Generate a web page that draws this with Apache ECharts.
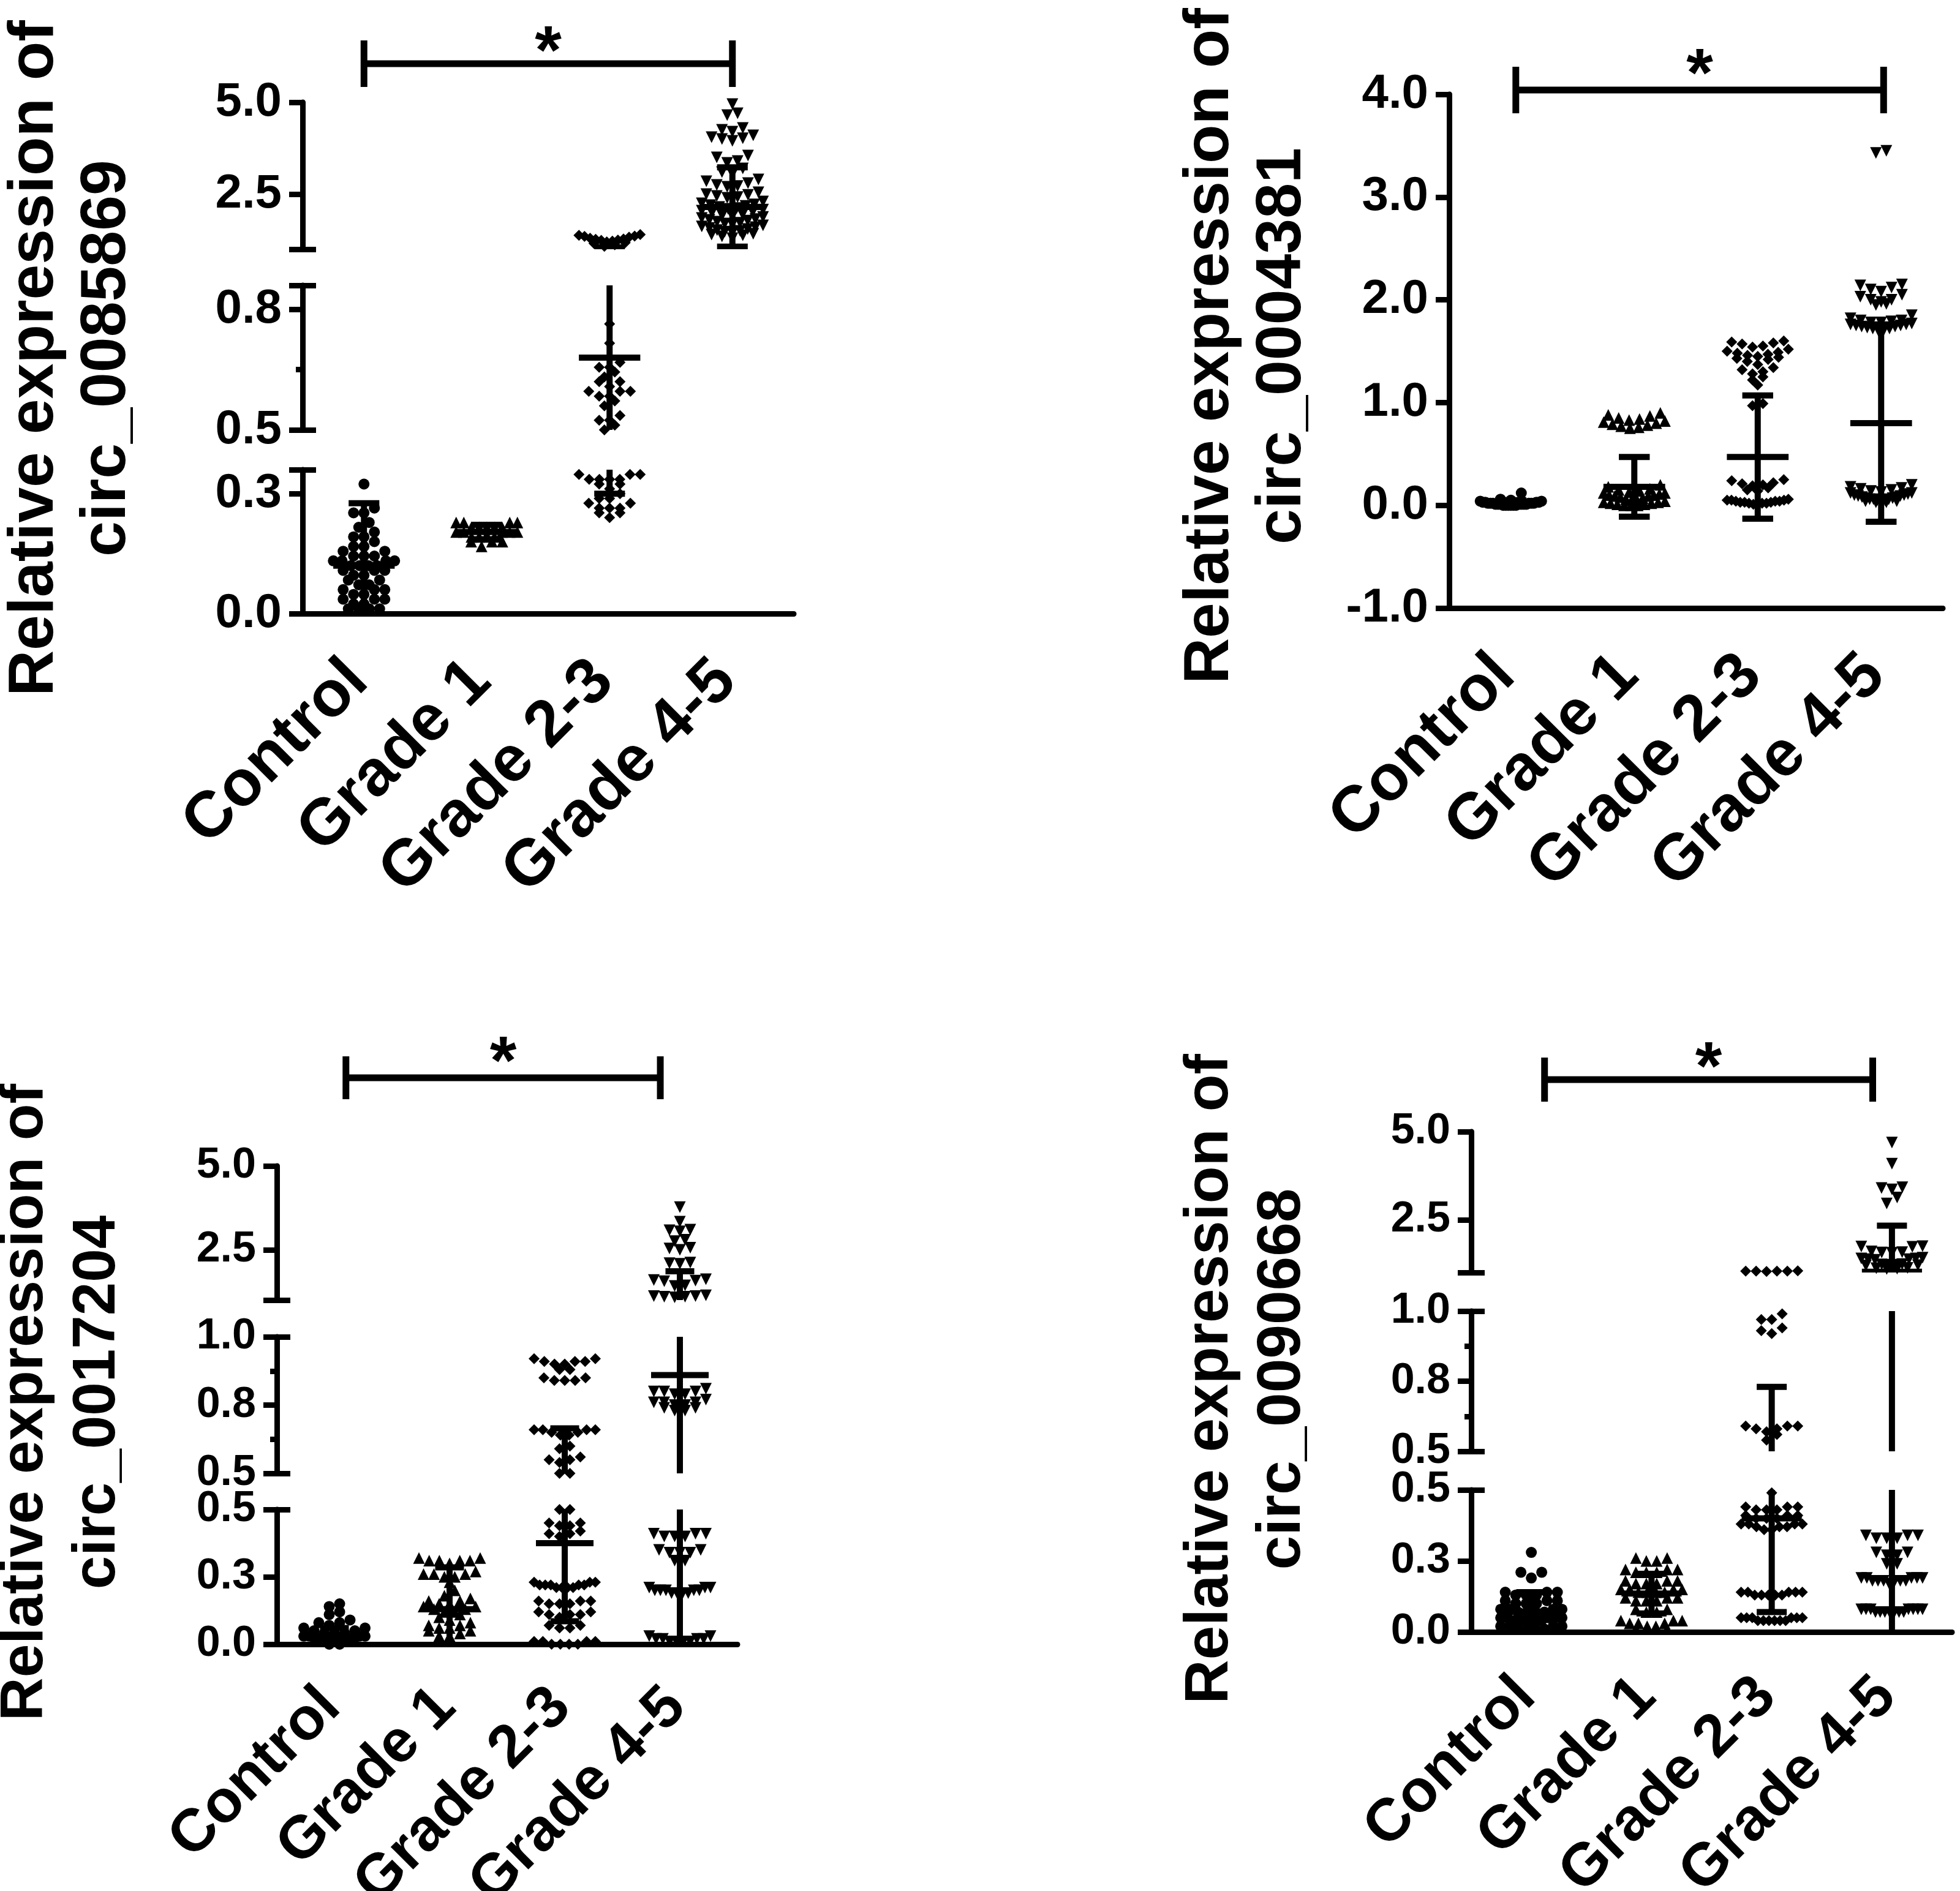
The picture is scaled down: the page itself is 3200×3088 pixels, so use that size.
<!DOCTYPE html>
<html lang="en">
<head>
<meta charset="utf-8">
<title>Relative expression of circRNAs by grade</title>
<script src="https://cdn.jsdelivr.net/npm/echarts@6/dist/echarts.min.js"></script>
<style>
  html, body { margin: 0; padding: 0; background: #fff; }
  #main { width: 3200px; height: 3088px; }
</style>
</head>
<body>
<div id="main"></div>
<script type="text/javascript">
var groups = ['Control', 'Grade 1', 'Grade 2-3', 'Grade 4-5'];
var circNames = ['circ_0085869', 'circ_0004381', 'circ_0017204', 'circ_0090668'];
var sigLabel = '*';

// circ_0085869
var a_control = [0.27, 0.22, 0.21, 0.21, 0.19, 0.18, 0.17, 0.16, 0.16, 0.15, 0.14, 0.14, 0.13, 0.13, 0.12, 0.12, 0.12, 0.11, 0.11, 0.11, 0.11, 0.10, 0.10, 0.10, 0.10, 0.09, 0.09, 0.09, 0.08, 0.08, 0.07, 0.07, 0.06, 0.06, 0.05, 0.05, 0.05, 0.04, 0.04, 0.03, 0.03, 0.03, 0.02, 0.02, 0.01, 0.01, 0.01, 0.01];
var a_grade1 = [0.19, 0.19, 0.19, 0.19, 0.18, 0.18, 0.18, 0.18, 0.18, 0.17, 0.17, 0.17, 0.17, 0.17, 0.16, 0.16, 0.16, 0.16, 0.15, 0.15, 0.15, 0.14];
var a_grade23 = [1.40, 1.38, 1.36, 1.35, 1.33, 1.30, 1.28, 1.27, 1.25, 1.24, 1.22, 1.20, 1.18, 1.16, 1.12, 1.08,
  0.72, 0.68, 0.64, 0.63, 0.63, 0.62, 0.61, 0.60, 0.60, 0.59, 0.58, 0.58, 0.58, 0.57, 0.57, 0.56, 0.55, 0.53, 0.52, 0.52, 0.51, 0.50,
  0.29, 0.29, 0.29, 0.28, 0.28, 0.28, 0.28, 0.27, 0.27, 0.26, 0.25, 0.24, 0.24, 0.23, 0.23, 0.22, 0.22, 0.22, 0.21, 0.21, 0.20];
var a_grade45 = [4.95, 4.70, 4.65, 4.30, 4.25, 4.20, 4.10, 4.05, 4.02, 4.00, 3.95, 3.55, 3.50, 3.40, 3.35, 3.20, 3.10, 3.05, 2.90, 2.85, 2.80, 2.75, 2.72, 2.70, 2.55, 2.50, 2.48, 2.45, 2.42, 2.40, 2.30, 2.25, 2.22, 2.20, 2.18, 2.15, 2.12, 2.10, 2.08, 2.05, 2.02, 2.00, 1.95, 1.92, 1.90, 1.88, 1.85, 1.82, 1.80, 1.78, 1.75, 1.72, 1.70, 1.68, 1.65, 1.62, 1.60, 1.58, 1.55, 1.52, 1.50, 1.48, 1.45, 1.42, 1.40, 1.38, 1.35, 1.30];
var meanA = [0.10, 0.17, 0.65, 2.15];
var sdA = [0.13, 0.015, 0.40, 1.08];

// circ_0004381
var b_control = [0.12, 0.06, 0.05, 0.04, 0.04, 0.03, 0.03, 0.03, 0.03, 0.02, 0.02, 0.02, 0.02, 0.02, 0.02, 0.01, 0.01, 0.01, 0.01, 0.01, 0.01, 0.01, 0.00, 0.00, 0.00, 0.00, 0.00, 0.00];
var b_grade1 = [0.90, 0.88, 0.87, 0.85, 0.84, 0.83, 0.82, 0.81, 0.80, 0.79, 0.78, 0.77, 0.76, 0.75,
  0.20, 0.18, 0.16, 0.15, 0.14, 0.13, 0.12, 0.12, 0.11, 0.10, 0.10, 0.09, 0.09, 0.08, 0.07, 0.06, 0.05, 0.05, 0.04, 0.03, 0.03, 0.02, 0.02, 0.01, 0.01, 0.00, 0.00, 0.00];
var b_grade23 = [1.60, 1.59, 1.58, 1.57, 1.55, 1.54, 1.52, 1.50, 1.49, 1.48, 1.47, 1.46, 1.45, 1.44, 1.43, 1.42, 1.40, 1.37, 1.34, 1.32, 1.30, 1.28, 1.25, 1.22, 1.17, 0.99, 0.97,
  0.25, 0.24, 0.22, 0.21, 0.20, 0.19, 0.17, 0.15, 0.14, 0.06, 0.05, 0.05, 0.05, 0.04, 0.04, 0.04, 0.03, 0.03, 0.03, 0.02, 0.02, 0.02, 0.01, 0.01];
var b_grade45 = [3.45, 3.43, 2.15, 2.14, 2.12, 2.10, 2.08, 2.05, 2.03, 2.00, 2.00, 1.98, 1.96, 1.95,
  1.85, 1.82, 1.80, 1.80, 1.79, 1.78, 1.78, 1.77, 1.76, 1.76, 1.75, 1.75, 1.74, 1.74, 1.73, 1.72, 1.72, 1.71, 1.70, 1.68,
  0.20, 0.18, 0.17, 0.16, 0.15, 0.14, 0.13, 0.12, 0.12, 0.11, 0.10, 0.10, 0.09, 0.09, 0.08, 0.08, 0.07, 0.07, 0.06, 0.06, 0.06, 0.05, 0.05, 0.05, 0.04, 0.04, 0.03, 0.03];
var meanB = [0.02, 0.18, 0.47, 0.80];
var sdB = [0.03, 0.29, 0.60, 0.96];

// circ_0017204
var c_control = [0.15, 0.14, 0.12, 0.11, 0.09, 0.08, 0.08, 0.07, 0.06, 0.06, 0.05, 0.05, 0.04, 0.04, 0.04, 0.03, 0.03, 0.03, 0.03, 0.02, 0.02, 0.02, 0.02, 0.01, 0.01, 0.01, 0.01, 0.00, 0.00];
var c_grade1 = [0.32, 0.32, 0.31, 0.31, 0.31, 0.31, 0.30, 0.27, 0.26, 0.26, 0.26, 0.25, 0.25, 0.23, 0.20, 0.18, 0.17, 0.16, 0.16, 0.15, 0.15, 0.14, 0.14, 0.13, 0.13, 0.12, 0.12, 0.11, 0.10, 0.09, 0.08, 0.07, 0.07, 0.06, 0.06, 0.05, 0.05, 0.04, 0.03, 0.03, 0.02];
var c_grade23 = [0.92, 0.92, 0.91, 0.91, 0.91, 0.90, 0.90, 0.88, 0.88, 0.85, 0.85, 0.84, 0.84, 0.84, 0.66, 0.66, 0.66, 0.66, 0.65, 0.65, 0.64, 0.64, 0.60, 0.59, 0.56, 0.55, 0.55, 0.54, 0.50, 0.50,
  0.45, 0.45, 0.44, 0.44, 0.42, 0.41, 0.41, 0.40, 0.23, 0.23, 0.23, 0.22, 0.22, 0.22, 0.22, 0.22, 0.21, 0.21, 0.21, 0.21, 0.16, 0.16, 0.16, 0.15, 0.15, 0.15, 0.12, 0.12, 0.11, 0.11, 0.11, 0.10, 0.07, 0.07, 0.06, 0.06, 0.01, 0.01, 0.01, 0.01, 0.00, 0.00, 0.00, 0.00];
var c_grade45 = [3.77, 3.34, 3.10, 3.08, 3.05, 2.80, 2.76, 2.56, 2.54, 2.50, 2.12, 2.10, 2.08, 1.62, 1.60, 1.58, 1.56, 1.44, 1.42, 1.14, 1.12, 1.12, 1.10, 1.10, 1.08,
  0.81, 0.80, 0.80, 0.80, 0.79, 0.79, 0.77, 0.76, 0.76, 0.76, 0.75, 0.75, 0.74, 0.74, 0.73, 0.73,
  0.41, 0.41, 0.41, 0.40, 0.40, 0.40, 0.35, 0.35, 0.34, 0.34, 0.34, 0.31, 0.31, 0.21, 0.21, 0.21, 0.20, 0.20, 0.20, 0.20, 0.20, 0.19, 0.19, 0.19, 0.19, 0.03, 0.03, 0.02, 0.02, 0.02, 0.02, 0.01, 0.01, 0.01, 0.01];
var meanC = [0.03, 0.13, 0.375, 0.86];
var sdC = [0.03, 0.155, 0.29, 1.00];

// circ_0090668
var d_control = [0.28, 0.21, 0.21, 0.19, 0.14, 0.14, 0.14, 0.13, 0.13, 0.13, 0.11, 0.11, 0.11, 0.10, 0.10, 0.10, 0.08, 0.08, 0.08, 0.08, 0.07, 0.07, 0.07, 0.07, 0.05, 0.05, 0.05, 0.05, 0.05, 0.04, 0.04, 0.04, 0.04, 0.04, 0.02, 0.02, 0.02, 0.02, 0.01, 0.01, 0.01, 0.01];
var d_grade1 = [0.26, 0.26, 0.25, 0.25, 0.22, 0.22, 0.22, 0.21, 0.21, 0.21, 0.18, 0.18, 0.18, 0.17, 0.17, 0.17, 0.15, 0.15, 0.15, 0.15, 0.14, 0.14, 0.14, 0.14, 0.12, 0.12, 0.12, 0.11, 0.11, 0.11, 0.08, 0.08, 0.07, 0.07, 0.04, 0.04, 0.04, 0.03, 0.03, 0.03, 0.02, 0.02, 0.01, 0.01, 0.01, 0.01];
var d_grade23 = [1.05, 1.04, 1.04, 1.04, 1.04, 1.03, 0.99, 0.97, 0.97, 0.94, 0.93, 0.92, 0.59, 0.59, 0.59, 0.58, 0.58, 0.57, 0.56, 0.54,
  0.49, 0.44, 0.44, 0.44, 0.43, 0.43, 0.43, 0.41, 0.41, 0.41, 0.40, 0.40, 0.40, 0.38, 0.38, 0.38, 0.38, 0.37, 0.37, 0.37, 0.36, 0.36, 0.14, 0.14, 0.14, 0.14, 0.14, 0.13, 0.13, 0.13, 0.13, 0.13, 0.05, 0.05, 0.05, 0.05, 0.05, 0.05, 0.04, 0.04, 0.04, 0.04, 0.04, 0.04];
var d_grade45 = [4.69, 4.09, 3.42, 3.40, 3.36, 3.13, 2.96, 1.75, 1.74, 1.73, 1.60, 1.58, 1.57, 1.56, 1.42, 1.40, 1.40, 1.38, 1.38, 1.36, 1.24, 1.23, 1.22, 1.22, 1.21, 1.20, 1.13, 1.12, 1.11, 1.10,
  0.34, 0.34, 0.34, 0.33, 0.33, 0.33, 0.28, 0.28, 0.27, 0.27, 0.24, 0.24, 0.19, 0.19, 0.19, 0.19, 0.19, 0.18, 0.18, 0.18, 0.18, 0.18, 0.18, 0.17, 0.08, 0.08, 0.08, 0.08, 0.08, 0.08, 0.08, 0.07, 0.07, 0.07, 0.07, 0.07, 0.07, 0.07];
var meanD = [0.07, 0.135, 0.40, 1.02];
var sdD = [0.07, 0.07, 0.33, 1.31];

// marker per group (GraphPad style)
var markers = [
  { symbol: 'circle', size: 18, rotate: 0 },
  { symbol: 'triangle', size: 19, rotate: 0 },
  { symbol: 'diamond', size: 18, rotate: 0 },
  { symbol: 'triangle', size: 19, rotate: 180 }
];

var FONT = 'Liberation Sans, Arial, sans-serif';
var LINE_W = 9;
var ROW_PX = 12, STEP_PX = 17, MAX_ROW_PX = 100;

// layout of each panel, broken y axes are split into segments (one grid each)
var panels = [
  { name: circNames[0], values: [a_control, a_grade1, a_grade23, a_grade45], mean: meanA, sd: sdA,
    left: 494, width: 802, tickFont: 78, catFont: 106, catMargin: 84, catPad: 14,
    titleFont: 104, titleX: 116, titleY: 585,
    bracket: { nudge: [0, 0], y: 63, cap: 38, star: 106 },
    segs: [
      { min: 1, max: 5, top: 167, bottom: 407, labels: [2.5, 5], caps: [1] },
      { min: 0.5, max: 0.8, top: 466, bottom: 702, labels: [0.5, 0.75], caps: [0.5, 0.8], minor: [0.625] },
      { min: 0, max: 0.3, top: 767, bottom: 1002, labels: [0, 0.25], caps: [0.3] }
    ] },
  { name: circNames[1], values: [b_control, b_grade1, b_grade23, b_grade45], mean: meanB, sd: sdB,
    left: 2366, width: 806, tickFont: 78, catFont: 106, catMargin: 84, catPad: 14,
    titleFont: 104, titleX: 2035, titleY: 565,
    bracket: { nudge: [0.04, 0.02], y: 7, cap: 38, star: 56 },
    segs: [
      { min: -1, max: 4, top: 154, bottom: 993, labels: [-1, 0, 1, 2, 3, 4], caps: [] }
    ] },
  { name: circNames[2], values: [c_control, c_grade1, c_grade23, c_grade45], mean: meanC, sd: sdC,
    left: 452, width: 752, tickFont: 70, catFont: 98, catMargin: 82, catPad: 8,
    titleFont: 98, titleX: 101, titleY: 2290,
    bracket: { nudge: [0.1, -0.17], y: 144, cap: 35, star: 193 },
    segs: [
      { min: 1, max: 5, top: 1904, bottom: 2123, labels: [2.5, 5], caps: [1] },
      { min: 0.5, max: 1, top: 2183, bottom: 2406, labels: [0.5, 0.75, 1], caps: [0.5, 1], minor: [0.625, 0.875] },
      { min: 0, max: 0.5, top: 2465, bottom: 2685, labels: [0, 0.25, 0.5], caps: [0.5] }
    ] },
  { name: circNames[3], values: [d_control, d_grade1, d_grade23, d_grade45], mean: meanD, sd: sdD,
    left: 2402, width: 785, tickFont: 70, catFont: 98, catMargin: 82, catPad: 12,
    titleFont: 100, titleX: 2035, titleY: 2252,
    bracket: { nudge: [0.11, -0.16], y: 85, cap: 36, star: 128 },
    segs: [
      { min: 1, max: 5, top: 1848, bottom: 2078, labels: [2.5, 5], caps: [1] },
      { min: 0.5, max: 1, top: 2141, bottom: 2370, labels: [0.5, 0.75, 1], caps: [0.5, 1], minor: [0.625, 0.875] },
      { min: 0, max: 0.5, top: 2433, bottom: 2665, labels: [0, 0.25, 0.5], caps: [0.5] }
    ] }
];

// spread equal values sideways in rows, the way a dot plot does
function swarm(values, seg, cat, pxPerCat) {
  var ppu = (seg.bottom - seg.top) / (seg.max - seg.min);
  var vals = values.filter(function (v) { return v >= seg.min && v <= seg.max; })
    .sort(function (a, b) { return b - a; });
  var rows = [];
  vals.forEach(function (v) {
    var r = rows[rows.length - 1];
    if (r && (r[0] - v) * ppu < ROW_PX) r.push(v); else rows.push([v]);
  });
  var pts = [];
  rows.forEach(function (r) {
    var n = r.length;
    var step = n > 1 ? Math.min(STEP_PX, MAX_ROW_PX / (n - 1)) : 0;
    var slots = [];
    for (var k = 0; k < n; k++) slots.push(k - (n - 1) / 2);
    slots.sort(function (a, b) { return Math.abs(a) - Math.abs(b) || a - b; });
    r.slice().sort(function (a, b) { return a - b; }).forEach(function (v, j) {
      pts.push([cat + slots[j] * step / pxPerCat, v]);
    });
  });
  return pts;
}

function errorBarItem(pxPerCat) {
  var half = 50 * pxPerCat / 200, capHalf = 25 * pxPerCat / 200;
  return function (params, api) {
    var cs = params.coordSys;
    var i = api.value(0), m = api.value(1), sd = api.value(2);
    var pm = api.coord([i, m]), ph = api.coord([i, m + sd]), pl = api.coord([i, m - sd]);
    var x = pm[0];
    var st = { stroke: '#000', lineWidth: 10 };
    return {
      type: 'group',
      clipPath: { type: 'rect', shape: { x: cs.x - 60, y: cs.y, width: cs.width + 120, height: cs.height } },
      children: [
        { type: 'line', shape: { x1: x, y1: ph[1], x2: x, y2: pl[1] }, style: st },
        { type: 'line', shape: { x1: x - half, y1: pm[1], x2: x + half, y2: pm[1] }, style: st },
        { type: 'line', shape: { x1: x - capHalf, y1: ph[1], x2: x + capHalf, y2: ph[1] }, style: st },
        { type: 'line', shape: { x1: x - capHalf, y1: pl[1], x2: x + capHalf, y2: pl[1] }, style: st }
      ]
    };
  };
}

function bracketItem(p) {
  var b = p.bracket, top = p.segs[0];
  return function (params, api) {
    var yTop = params.coordSys.y;
    var x0 = api.coord([api.value(0) + b.nudge[0], top.max])[0];
    var x1 = api.coord([api.value(1) + b.nudge[1], top.max])[0];
    var yb = yTop - b.y;
    var st = { stroke: '#000', lineWidth: 11 };
    return {
      type: 'group',
      children: [
        { type: 'line', shape: { x1: x0, y1: yb, x2: x1, y2: yb }, style: st },
        { type: 'line', shape: { x1: x0, y1: yb - b.cap, x2: x0, y2: yb + b.cap }, style: st },
        { type: 'line', shape: { x1: x1, y1: yb - b.cap, x2: x1, y2: yb + b.cap }, style: st },
        { type: 'text', x: (x0 + x1) / 2, y: yTop - b.star + 28,
          style: { text: sigLabel, fill: '#000', fontSize: 112, fontWeight: 'bold', fontFamily: FONT,
                   align: 'center', verticalAlign: 'middle' } }
      ]
    };
  };
}

var grids = [], xAxes = [], yAxes = [], series = [], graphics = [];
var axisLine = { color: '#000', width: LINE_W };

panels.forEach(function (p) {
  var pxPerCat = p.width / groups.length;
  p.segs.forEach(function (s, si) {
    var g = grids.length;
    var isBottom = si === p.segs.length - 1;
    grids.push({ left: p.left, top: s.top, width: p.width, height: s.bottom - s.top,
                 containLabel: false, outerBoundsMode: 'none' });

    xAxes.push({
      type: 'category', gridIndex: g, data: groups, show: isBottom, position: 'bottom', boundaryGap: true,
      axisLine: { onZero: false, lineStyle: axisLine },
      axisTick: { alignWithLabel: true, length: 22, lineStyle: axisLine },
      axisLabel: { interval: 0, rotate: 45, margin: p.catMargin, padding: [0, p.catPad, 0, 0], color: '#000',
                   fontFamily: FONT, fontWeight: 'bold', fontSize: p.catFont },
      splitLine: { show: false }
    });
    var xVal = xAxes.length;
    xAxes.push({ type: 'value', gridIndex: g, show: false, min: -0.5, max: 3.5 });

    var yMain = yAxes.length;
    yAxes.push({
      type: 'value', gridIndex: g, min: s.min, max: s.max, position: 'left',
      axisLine: { show: true, onZero: false, lineStyle: axisLine },
      axisTick: { show: true, length: 22, customValues: s.labels.concat(s.caps), lineStyle: axisLine },
      axisLabel: { show: true, customValues: s.labels, margin: 34, color: '#000',
                   fontFamily: FONT, fontWeight: 'bold', fontSize: p.tickFont,
                   formatter: function (v) { return Number(v).toFixed(1); } },
      splitLine: { show: false }
    });
    if (s.caps.length) {
      // inner half of the break caps
      yAxes.push({
        type: 'value', gridIndex: g, min: s.min, max: s.max, position: 'left',
        axisLine: { show: false, onZero: false },
        axisTick: { show: true, inside: true, length: 22, customValues: s.caps, lineStyle: axisLine },
        axisLabel: { show: false }, splitLine: { show: false }
      });
    }
    if (s.minor) {
      yAxes.push({
        type: 'value', gridIndex: g, min: s.min, max: s.max, position: 'left',
        axisLine: { show: false, onZero: false },
        axisTick: { show: true, length: 11, customValues: s.minor, lineStyle: axisLine },
        axisLabel: { show: false }, splitLine: { show: false }
      });
    }

    p.values.forEach(function (vals, gi) {
      var mk = markers[gi];
      series.push({
        type: 'scatter', xAxisIndex: xVal, yAxisIndex: yMain,
        symbol: mk.symbol, symbolSize: mk.size, symbolRotate: mk.rotate,
        itemStyle: { color: '#000', opacity: 1 }, silent: true,
        data: swarm(vals, s, gi, pxPerCat)
      });
    });

    series.push({
      type: 'custom', xAxisIndex: xVal, yAxisIndex: yMain, silent: true,
      data: p.mean.map(function (m, i) { return [i, m, p.sd[i]]; }),
      renderItem: errorBarItem(pxPerCat)
    });

    if (si === 0) {
      series.push({
        type: 'custom', xAxisIndex: xVal, yAxisIndex: yMain, silent: true, clip: false,
        data: [[0, 3]],
        renderItem: bracketItem(p)
      });
    }
  });

  graphics.push({
    type: 'text', x: p.titleX, y: p.titleY, rotation: Math.PI / 2,
    style: { text: 'Relative expression of\n' + p.name, fill: '#000', fontFamily: FONT, fontWeight: 'bold',
             fontSize: p.titleFont, lineHeight: 118, align: 'center', verticalAlign: 'middle' }
  });
});

var chart = echarts.init(document.getElementById('main'));
chart.setOption({
  backgroundColor: '#fff',
  animation: false,
  textStyle: { fontFamily: FONT },
  grid: grids,
  xAxis: xAxes,
  yAxis: yAxes,
  graphic: graphics,
  series: series
});
</script>
</body>
</html>
